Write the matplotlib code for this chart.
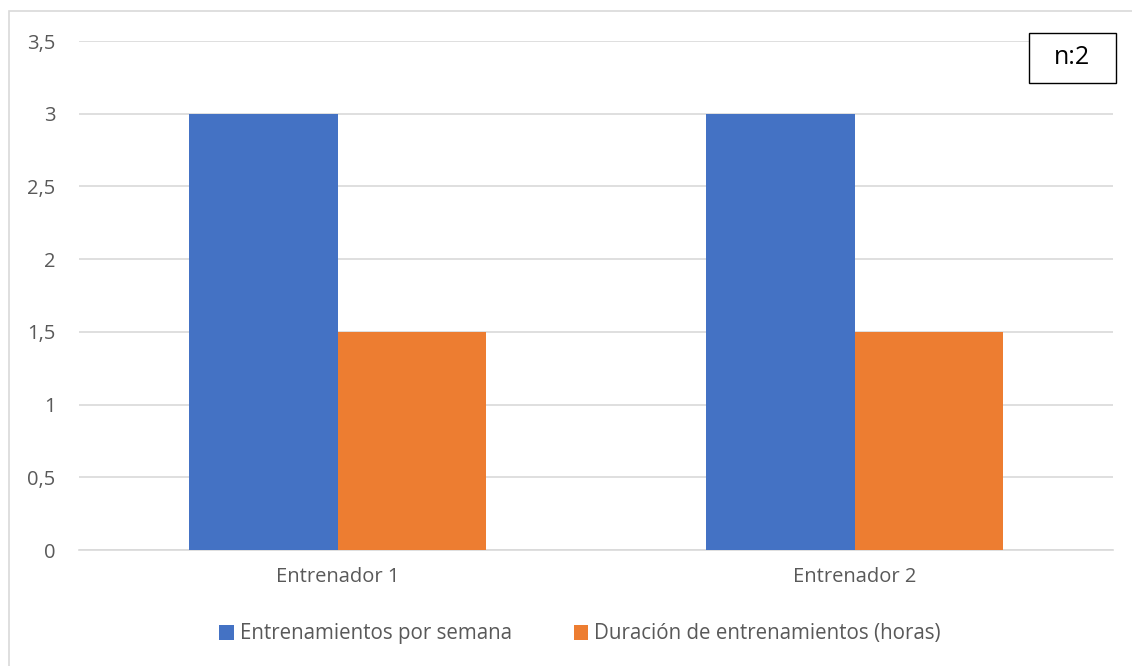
import matplotlib.pyplot as plt
import matplotlib.patches as mpatches
import numpy as np

categories = ["Entrenador 1", "Entrenador 2"]
series_names = ["Entrenamientos por semana", "Duración de entrenamientos (horas)"]
sesiones = [3, 3]
duracion = [1.5, 1.5]
yticks = [0, 0.5, 1, 1.5, 2, 2.5, 3, 3.5]
ytick_labels = ["0", "0,5", "1", "1,5", "2", "2,5", "3", "3,5"]
colors = ["#4472C4", "#ED7D31"]
text_color = "#595959"

plt.rcParams['font.family'] = ['Open Sans', 'DejaVu Sans']

W, H = 1132, 666
fig = plt.figure(figsize=(W / 100, H / 100), dpi=100)

# chart-area border
fig.patches.append(mpatches.Rectangle((9 / W, -0.01), (1135 - 9) / W, 1 - 11 / H + 0.01,
                                      transform=fig.transFigure, fill=False,
                                      edgecolor="#D9D9D9", linewidth=1.2))

ax = fig.add_axes([79 / W, 1 - 550 / H, (1113 - 79) / W, (550 - 41) / H])
x = np.arange(len(categories))
w = 0.287
ax.bar(x - w / 2, sesiones, w, color=colors[0], label=series_names[0], zorder=3)
ax.bar(x + w / 2, duracion, w, color=colors[1], label=series_names[1], zorder=3)

ax.set_xlim(-0.5, 1.5)
ax.set_ylim(0, 3.5)
ax.set_yticks(yticks)
ax.set_yticklabels(ytick_labels)
ax.set_xticks(x)
ax.set_xticklabels(categories)
ax.grid(axis="y", color="#D9D9D9", linewidth=1.2, zorder=0)
for s in ["top", "right", "left"]:
    ax.spines[s].set_visible(False)
ax.spines["bottom"].set_color("#D9D9D9")
ax.spines["bottom"].set_linewidth(1.2)
ax.tick_params(axis="both", length=0, colors=text_color, labelsize=14.5)
ax.tick_params(axis="y", pad=17)
ax.tick_params(axis="x", pad=12)

leg = fig.legend(loc="center", bbox_to_anchor=(580 / W, 1 - 634 / H), ncol=2,
                 frameon=False, fontsize=14.8, handlelength=0.7, handleheight=0.7,
                 handletextpad=0.3, columnspacing=3.0)
for t in leg.get_texts():
    t.set_color(text_color)

# sample-size annotation box
bx0, bx1, by0, by1 = 1029, 1116, 33, 83
fig.patches.append(mpatches.Rectangle((bx0 / W, 1 - by1 / H), (bx1 - bx0) / W, (by1 - by0) / H,
                                      transform=fig.transFigure, facecolor="white",
                                      edgecolor="black", linewidth=1))
fig.text((bx0 + bx1) / 2 / W, 1 - (by0 + by1) / 2 / H, "n:2", ha="center", va="center",
         fontsize=18, color="black")

fig.savefig("out.png", dpi=100)
